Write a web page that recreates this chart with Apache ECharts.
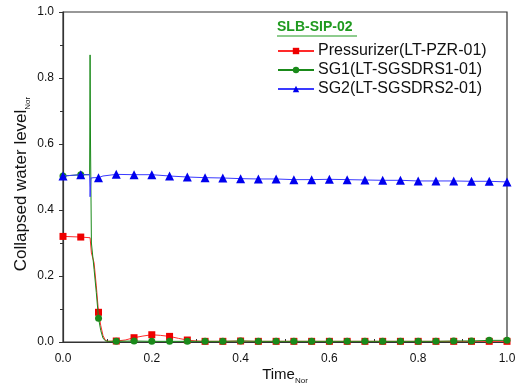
<!DOCTYPE html>
<html>
<head>
<meta charset="utf-8">
<script src="https://cdn.jsdelivr.net/npm/echarts@6/dist/echarts.min.js"></script>
<style>
  html, body { margin: 0; padding: 0; background: #fff; }
  #chart { width: 524px; height: 385px; }
</style>
</head>
<body>
<div id="chart"></div>
<script>
// times where the markers sit (every 0.04)
const markTimes = [0, 0.04, 0.08, 0.12, 0.16, 0.2, 0.24, 0.28, 0.32, 0.36, 0.4, 0.44, 0.48, 0.52,
    0.56, 0.6, 0.64, 0.68, 0.72, 0.76, 0.8, 0.84, 0.88, 0.92, 0.96, 1.0];

// Pressurizer (LT-PZR-01)
const pzrTime = [0, 0.04, 0.061, 0.064, 0.07, 0.075, 0.08, 0.085, 0.09, 0.095, 0.1, 0.12, 0.14, 0.16, 0.18, 0.2, 0.22,
    0.24, 0.26, 0.28, 0.3, 0.32, 0.36, 0.4, 0.44, 0.48, 0.52, 0.56, 0.6, 0.64, 0.68, 0.72, 0.76,
    0.8, 0.84, 0.88, 0.92, 0.96, 1.0];
const pzrLevel = [0.32, 0.318, 0.316, 0.27, 0.24, 0.17, 0.09, 0.05, 0.02, 0.006, 0.002, 0.003, 0.006, 0.013, 0.018, 0.022, 0.02,
    0.017, 0.011, 0.006, 0.003, 0.002, 0.002, 0.003, 0.002, 0.002, 0.002, 0.002, 0.002, 0.002, 0.002, 0.002, 0.002,
    0.002, 0.002, 0.002, 0.002, 0.002, 0.002];

// SG1 (LT-SGSDRS1-01)
const sg1Time = [0, 0.04, 0.06, 0.061, 0.062, 0.064, 0.07, 0.075, 0.08, 0.085, 0.09, 0.095, 0.1, 0.12, 0.16, 0.2, 0.24,
    0.28, 0.32, 0.36, 0.4, 0.44, 0.48, 0.52, 0.56, 0.6, 0.64, 0.68, 0.72, 0.76, 0.8, 0.84, 0.88,
    0.92, 0.96, 1.0];
const sg1Level = [0.503, 0.507, 0.507, 0.87, 0.6, 0.3, 0.22, 0.15, 0.072, 0.035, 0.012, 0.004, 0.002, 0.002, 0.003, 0.002, 0.002,
    0.002, 0.002, 0.002, 0.003, 0.002, 0.002, 0.002, 0.002, 0.002, 0.002, 0.002, 0.002, 0.002, 0.002, 0.002, 0.003,
    0.003, 0.005, 0.005];

// SG2 (LT-SGSDRS2-01)
const sg2Time = [0, 0.04, 0.06, 0.061, 0.063, 0.07, 0.08, 0.09, 0.12, 0.16, 0.2, 0.24, 0.28, 0.32, 0.36, 0.4, 0.44,
    0.48, 0.52, 0.56, 0.6, 0.64, 0.68, 0.72, 0.76, 0.8, 0.84, 0.88, 0.92, 0.96, 1.0];
const sg2Level = [0.503, 0.507, 0.507, 0.44, 0.497, 0.498, 0.498, 0.503, 0.508, 0.507, 0.507, 0.503, 0.5, 0.498, 0.497, 0.495, 0.494,
    0.494, 0.492, 0.492, 0.493, 0.492, 0.491, 0.49, 0.49, 0.488, 0.488, 0.488, 0.487, 0.487, 0.485];

const legendTitle = 'SLB-SIP-02';
const seriesNames = ['Pressurizer(LT-PZR-01)', 'SG1(LT-SGSDRS1-01)', 'SG2(LT-SGSDRS2-01)'];

function toData(times, levels) {
    return times.map((t, i) => {
        const isMark = markTimes.some(m => Math.abs(m - t) < 1e-9);
        return isMark ? [t, levels[i]] : { value: [t, levels[i]], symbol: 'none' };
    });
}

const chart = echarts.init(document.getElementById('chart'));
const font = 'Liberation Sans, Arial, sans-serif';

const option = {
    backgroundColor: '#fff',
    animation: false,
    grid: { left: 63, right: 17, top: 12, bottom: 43, outerBoundsMode: 'none', containLabel: false },
    title: {
        text: legendTitle,
        left: 277,
        top: 20,
        padding: 0,
        textStyle: { color: '#1f9a1f', fontSize: 14, fontWeight: 'bold', fontFamily: font }
    },
    legend: {
        data: seriesNames,
        orient: 'vertical',
        left: 277,
        top: 43,
        padding: 0,
        itemWidth: 36,
        itemHeight: 8,
        itemGap: 3,
        textStyle: { fontSize: 16, color: '#111', fontFamily: font, padding: [0, 0, 0, -1] }
    },
    xAxis: {
        type: 'value',
        min: 0, max: 1, interval: 0.2,
        name: '{a|Time}{b|Nor}',
        nameLocation: 'middle',
        nameGap: 22,
        nameMoveOverlap: false,
        nameTextStyle: {
            rich: {
                a: { fontSize: 15, color: '#111', fontFamily: font },
                b: { fontSize: 8, color: '#111', fontFamily: font, padding: [13, 0, 0, 0] }
            }
        },
        axisLine: { show: true, onZero: false, lineStyle: { color: '#333', width: 1.2 } },
        axisTick: { show: true, inside: true, length: 4, lineStyle: { color: '#333' } },
        minorTick: { show: true, splitNumber: 2, length: 3, lineStyle: { color: '#333' } },
        axisLabel: { fontSize: 12, color: '#111', fontFamily: font, margin: 11,
            formatter: v => v.toFixed(1) },
        splitLine: { show: false }
    },
    yAxis: {
        type: 'value',
        min: 0, max: 1, interval: 0.2,
        name: '{a|Collapsed water level}{b|Nor}',
        nameLocation: 'middle',
        nameGap: 31,
        nameMoveOverlap: false,
        nameRotate: 90,
        nameTextStyle: {
            padding: [0, 14, 0, 0],
            rich: {
                a: { fontSize: 17, color: '#111', fontFamily: font },
                b: { fontSize: 8, color: '#111', fontFamily: font, padding: [14, 0, 0, 0] }
            }
        },
        axisLine: { show: true, lineStyle: { color: '#333', width: 1.2 } },
        axisTick: { show: true, length: 4, lineStyle: { color: '#333' } },
        minorTick: { show: true, splitNumber: 2, length: 3, lineStyle: { color: '#333' } },
        axisLabel: { fontSize: 12, color: '#111', fontFamily: font, margin: 9,
            formatter: v => v.toFixed(1) },
        splitLine: { show: false }
    },
    series: [
        {
            name: seriesNames[1],
            type: 'line',
            data: toData(sg1Time, sg1Level),
            symbol: 'circle',
            symbolSize: 7,
            lineStyle: { color: '#1a8a1a', width: 1 },
            itemStyle: { color: '#1a8a1a' },
            z: 3
        },
        {
            name: seriesNames[0],
            type: 'line',
            data: toData(pzrTime, pzrLevel),
            symbol: 'rect',
            symbolSize: 7,
            lineStyle: { color: '#ff2a2a', width: 1 },
            itemStyle: { color: '#ee0000' },
            z: 2
        },
        {
            name: seriesNames[2],
            type: 'line',
            data: toData(sg2Time, sg2Level),
            symbol: 'triangle',
            symbolSize: 9,
            lineStyle: { color: '#3a3aff', width: 1 },
            itemStyle: { color: '#0000ee' },
            z: 4
        }
    ]
};
chart.setOption(option);

// underline under the legend title, and the closed plot box
const rect = chart.getModel().getComponent('grid').coordinateSystem.getRect();
chart.setOption({
    graphic: [
        { type: 'line', shape: { x1: 277, y1: 36, x2: 357, y2: 36 }, style: { stroke: '#1f9a1f', lineWidth: 1.2 } },
        { type: 'rect', shape: { x: rect.x, y: rect.y, width: rect.width, height: rect.height },
          style: { fill: 'none', stroke: '#333', lineWidth: 1.2 }, silent: true, z: 0 }
    ]
});
</script>
</body>
</html>
